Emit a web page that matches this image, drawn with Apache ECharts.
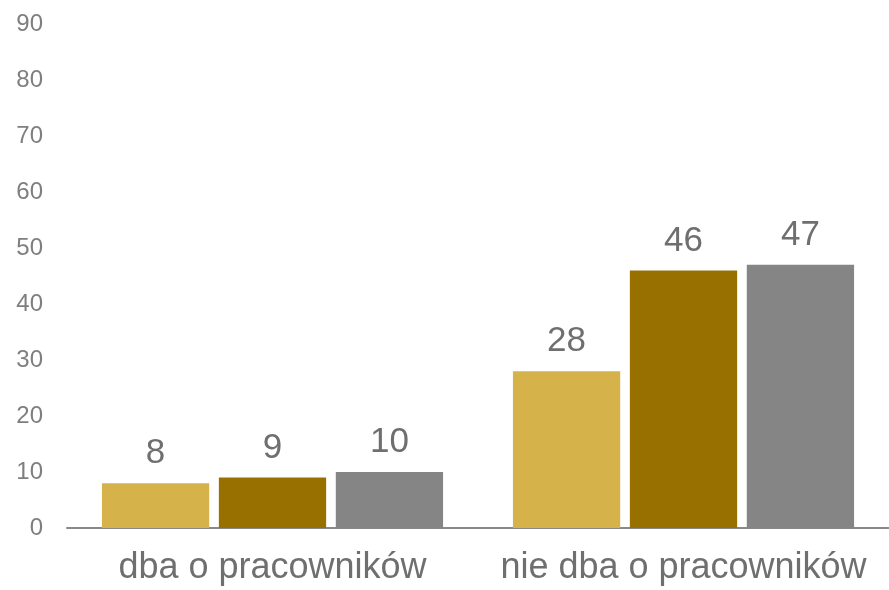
<!DOCTYPE html>
<html><head><meta charset="utf-8">
<script src="https://cdn.jsdelivr.net/npm/echarts@6/dist/echarts.min.js"></script>
<style>html,body{margin:0;padding:0;background:#fff}#c{width:889px;height:590px}</style>
</head><body><div id="c"></div>
<script>
const categories = ['dba o pracowników', 'nie dba o pracowników'];
const seriesA = [8, 28];
const seriesB = [9, 46];
const seriesC = [10, 47];
const yTicks = {min: 0, max: 90, interval: 10};
const colors = ['#D6B34A', '#987000', '#858585'];

const chart = echarts.init(document.getElementById('c'));
const font = 'Liberation Sans, Arial, sans-serif';
function mk(name, data, color) {
  return {
    name, type: 'bar', data,
    barGap: '9%', barCategoryGap: '17%',
    itemStyle: {color},
    label: {show: true, position: 'top', distance: 12, fontSize: 35, color: '#6f6f6f', fontFamily: font},
    animation: false
  };
}
chart.setOption({
  animation: false,
  grid: {left: 67, right: 0, top: 24, bottom: 62, containLabel: false},
  xAxis: {
    type: 'category', data: categories,
    axisLine: {lineStyle: {color: '#898989', width: 2}},
    axisTick: {show: false},
    axisLabel: {interval: 0, hideOverlap: false, fontSize: 36, color: '#6f6f6f', margin: 22, fontFamily: font}
  },
  yAxis: {
    type: 'value', min: yTicks.min, max: yTicks.max, interval: yTicks.interval,
    splitLine: {show: false},
    axisLine: {show: false}, axisTick: {show: false},
    axisLabel: {fontSize: 24, color: '#7f7f7f', margin: 24, fontFamily: font}
  },
  series: [mk('A', seriesA, colors[0]), mk('B', seriesB, colors[1]), mk('C', seriesC, colors[2])]
});
</script></body></html>
